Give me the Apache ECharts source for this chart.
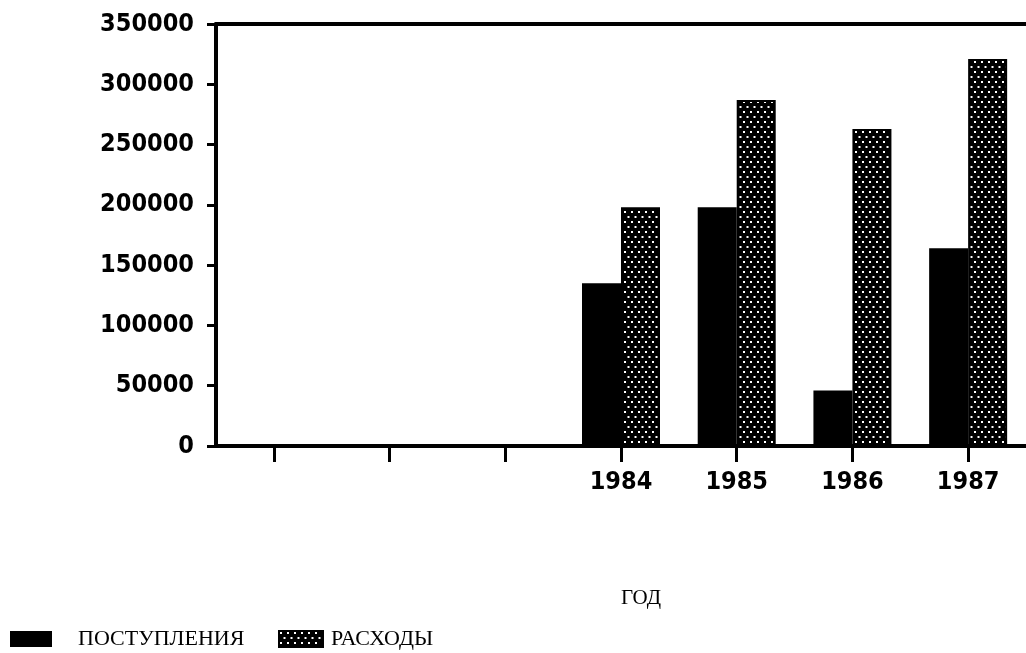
<!DOCTYPE html>
<html><head><meta charset="utf-8">
<script src="https://cdn.jsdelivr.net/npm/echarts@6/dist/echarts.min.js"></script>
<style>html,body{margin:0;padding:0;background:#fff}#c{width:1026px;height:653px}</style>
</head><body><div id="c"></div>
<script>
const categories = ['', '', '', '1984', '1985', '1986', '1987'];
const income = [null, null, null, 135000, 198000, 46000, 164000];
const expenses = [null, null, null, 198000, 287000, 263000, 321000];
const yTicks = [0, 50000, 100000, 150000, 200000, 250000, 300000, 350000];
const seriesNames = ['ПОСТУПЛЕНИЯ', 'РАСХОДЫ'];
const axisName = 'ГОД';

function makePattern() {
  const c = document.createElement('canvas');
  c.width = 7; c.height = 10;
  const g = c.getContext('2d');
  g.fillStyle = '#000'; g.fillRect(0, 0, 7, 10);
  g.fillStyle = '#fff';
  g.fillRect(1, 1, 2, 2);
  g.fillRect(4.5, 6, 2, 2);
  return c;
}
const pat = { image: makePattern(), repeat: 'repeat' };

const numFont = { fontFamily: '"Liberation Sans Narrow","DejaVu Sans Condensed",sans-serif', fontWeight: 'bold', fontSize: 25, color: '#000' };
const serifFont = { fontFamily: '"Liberation Serif","DejaVu Serif",serif', fontSize: 22, color: '#000' };

const chart = echarts.init(document.getElementById('c'));
chart.setOption({
  animation: false,
  backgroundColor: '#fff',
  grid: { left: 216, top: 24, width: 819, bottom: 653 - 446 },
  xAxis: [{
    type: 'category', data: categories, position: 'bottom',
    axisLine: { show: true, lineStyle: { color: '#000', width: 4 } },
    axisTick: { show: true, alignWithLabel: true, interval: 0, length: 16, lineStyle: { color: '#000', width: 3 } },
    axisLabel: Object.assign({ margin: 24, interval: 0 }, numFont),
    splitLine: { show: false }
  }, {
    type: 'category', data: categories, position: 'top',
    axisLine: { show: true, lineStyle: { color: '#000', width: 4 } },
    axisTick: { show: false }, axisLabel: { show: false }, splitLine: { show: false }
  }],
  yAxis: {
    type: 'value', min: yTicks[0], max: yTicks[yTicks.length - 1], interval: yTicks[1] - yTicks[0],
    axisLine: { show: true, lineStyle: { color: '#000', width: 4 } },
    axisTick: { show: true, length: 9, lineStyle: { color: '#000', width: 3 } },
    axisLabel: Object.assign({ margin: 22, formatter: v => String(v) }, numFont),
    splitLine: { show: false }
  },
  legend: [{
    data: [seriesNames[0]], left: 5, top: 623, icon: 'rect', itemWidth: 42, itemHeight: 16,
    textStyle: Object.assign({ padding: [0, 0, 0, 21] }, serifFont)
  }, {
    data: [seriesNames[1]], left: 273, top: 623, icon: 'rect', itemWidth: 44, itemHeight: 16,
    textStyle: Object.assign({ padding: [0, 0, 0, 3] }, serifFont)
  }],
  graphic: [{
    type: 'text', x: 641, y: 598,
    style: { text: axisName, textAlign: 'center', textVerticalAlign: 'middle', font: '21px "Liberation Serif", serif', fill: '#000' }
  }],
  series: [{
    name: seriesNames[0], type: 'bar', data: income, barWidth: 39, barGap: '0%',
    itemStyle: { color: '#000' }
  }, {
    name: seriesNames[1], type: 'bar', data: expenses, barWidth: 39,
    itemStyle: { color: pat, borderColor: '#000', borderWidth: 2 }
  }]
});
</script></body></html>
